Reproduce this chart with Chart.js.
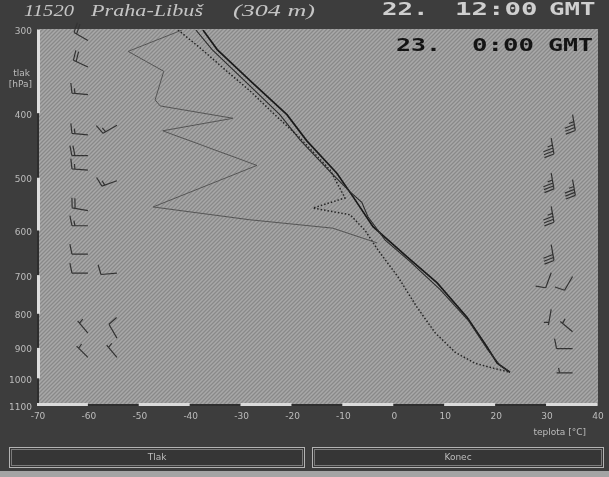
<!DOCTYPE html>
<html>
<head>
<meta charset="utf-8">
<script src="https://cdn.jsdelivr.net/npm/chart.js@4.4.1/dist/chart.umd.min.js"></script>
<style>
  html, body { margin: 0; padding: 0; background: #3d3d3d; }
  #wrap { width: 609px; height: 477px; }
</style>
</head>
<body>
<div id="wrap"><canvas id="sounding" width="609" height="477"></canvas></div>
<script>
// osy
const pressureTicks = [300, 400, 500, 600, 700, 800, 900, 1000, 1100];
const tempTicks = [-70, -60, -50, -40, -30, -20, -10, 0, 10, 20, 30, 40];

// teplota 22. 12:00 (plna cara)
const t12P = [300, 321, 357, 402, 440, 492, 534, 592, 657, 719, 810, 897, 949, 979];
const t12T = [-37.4, -34.6, -28.2, -20.9, -17.0, -11.1, -7.9, -4.0, 2.7, 8.6, 14.5, 18.4, 20.4, 22.9];

// teplota 23. 0:00 (plna cara, tenci)
const t00P = [300, 321, 357, 402, 439, 490, 525, 544, 572, 620, 668, 736, 818, 907, 955, 979];
const t00T = [-38.8, -35.6, -29.3, -22.3, -18.3, -12.4, -8.5, -6.2, -5.0, -1.6, 3.3, 9.2, 14.7, 18.6, 20.9, 22.9];

// rosny bod 23. 0:00 (teckovane)
const td00P = [300, 319, 346, 370, 402, 436, 487, 536, 555, 568, 599, 642, 704, 781, 854, 913, 949, 965, 979];
const td00T = [-42.3, -38.0, -32.7, -28.2, -23.3, -18.3, -12.4, -9.5, -15.8, -8.5, -5.6, -3.0, 0.9, 4.6, 8.2, 12.1, 16.0, 19.6, 22.9];

// rosny bod 22. 12:00 (tenka lomena cara)
const td12P = [300, 323, 346, 382, 390, 407, 425, 479, 553, 578, 595, 626];
const td12T = [-41.5, -52.1, -45.1, -46.8, -45.8, -31.5, -45.3, -26.8, -47.2, -28.2, -11.9, -3.2];

// vitr vlevo (smer, rychlost v kt, sloupec)
const windLeftP = [311, 341, 375, 417, 431, 463, 487, 505, 560, 590, 651, 695, 695, 855, 870, 930, 930];
const windLeftDir = [300, 295, 275, 240, 275, 270, 275, 250, 280, 270, 270, 270, 265, 320, 330, 315, 320];
const windLeftSpd = [20, 20, 15, 15, 15, 20, 15, 15, 20, 15, 10, 10, 10, 5, 10, 5, 5];
const windLeftLane = [0, 0, 0, 1, 0, 0, 0, 1, 0, 0, 0, 0, 1, 0, 1, 0, 1];

// vitr vpravo
const windRightP = [402, 436, 492, 503, 552, 630, 694, 703, 788, 851, 902, 981];
const windRightDir = [170, 170, 170, 170, 170, 170, 200, 210, 190, 310, 270, 270];
const windRightSpd = [35, 35, 35, 35, 35, 30, 10, 10, 5, 5, 10, 5];
const windRightLane = [1, 0, 0, 1, 0, 0, 0, 1, 0, 1, 1, 1];

function series(ts, ps) {
  return ts.map((t, i) => ({ x: t, y: ps[i] }));
}

function makeHatch(ctx) {
  const c = document.createElement('canvas');
  c.width = 4; c.height = 4;
  const g = c.getContext('2d');
  g.fillStyle = '#9a9a9a';
  g.fillRect(0, 0, 4, 4);
  g.fillStyle = '#898989';
  for (let i = 0; i < 4; i++) g.fillRect(i, 3 - i, 1, 1);
  g.fillStyle = '#a8a8a8';
  for (let i = 0; i < 4; i++) g.fillRect(i, (5 - i) % 4, 1, 1);
  return ctx.createPattern(c, 'repeat');
}

// text roztazeny na danou sirku
function fitText(ctx, txt, x, y, w) {
  const m = ctx.measureText(txt).width;
  ctx.save();
  ctx.translate(x, y);
  ctx.scale(w / m, 1);
  ctx.textAlign = 'left';
  ctx.fillText(txt, 0, 0);
  ctx.restore();
}

// neproporcionalni text s pevnou sirkou znaku
function monoText(ctx, txt, x, y, cell) {
  const s = cell / ctx.measureText('0').width;
  ctx.save();
  ctx.translate(x, y);
  ctx.scale(s, 1);
  ctx.textAlign = 'left';
  ctx.fillText(txt, 0, 0);
  ctx.restore();
}

function drawBarb(ctx, x, y, dir, spd) {
  const rad = dir * Math.PI / 180;
  const ux = Math.sin(rad), uy = -Math.cos(rad);
  const px = -uy, py = ux;
  const len = 16;
  const tx = x + ux * len, ty = y + uy * len;
  ctx.beginPath();
  ctx.moveTo(x, y);
  ctx.lineTo(tx, ty);
  let rest = Math.round(spd / 5) * 5;
  let pos = 0;
  while (rest >= 10) {
    const bx = tx - ux * pos, by = ty - uy * pos;
    ctx.moveTo(bx, by);
    ctx.lineTo(bx + px * 10 + ux * 2, by + py * 10 + uy * 2);
    rest -= 10;
    pos += 3;
  }
  if (rest >= 5) {
    if (pos === 0) pos = 3;
    const bx = tx - ux * pos, by = ty - uy * pos;
    ctx.moveTo(bx, by);
    ctx.lineTo(bx + px * 5 + ux, by + py * 5 + uy);
  }
  ctx.stroke();
}

const soundingFrame = {
  id: 'soundingFrame',
  beforeDraw(chart) {
    const { ctx, chartArea: a, width, height } = chart;
    ctx.save();
    ctx.fillStyle = '#3d3d3d';
    ctx.fillRect(0, 0, width, height);
    ctx.fillStyle = '#a4a4a4';
    ctx.fillRect(0, 471, width, height - 471);
    ctx.fillStyle = makeHatch(ctx);
    ctx.fillRect(a.left, a.top - 1, a.right - a.left + 1, a.bottom - a.top + 1);
    ctx.restore();
  },
  afterDatasetsDraw(chart) {
    const { ctx, chartArea: a, scales } = chart;
    const xs = scales.x, ys = scales.y;
    ctx.save();

    // vetrne symboly
    ctx.strokeStyle = '#333333';
    ctx.lineWidth = 1.2;
    const leftLanes = [-60, -54.3];
    const rightLanes = [31, 35.2];
    windLeftP.forEach((p, i) => {
      drawBarb(ctx, xs.getPixelForValue(leftLanes[windLeftLane[i]]), ys.getPixelForValue(p), windLeftDir[i], windLeftSpd[i]);
    });
    windRightP.forEach((p, i) => {
      drawBarb(ctx, xs.getPixelForValue(rightLanes[windRightLane[i]]), ys.getPixelForValue(p), windRightDir[i], windRightSpd[i]);
    });

    // leva osa - stridave useky
    for (let i = 0; i < pressureTicks.length - 1; i++) {
      const y1 = ys.getPixelForValue(pressureTicks[i]);
      const y2 = ys.getPixelForValue(pressureTicks[i + 1]);
      if (i % 2 === 0) {
        ctx.fillStyle = '#dedede';
        ctx.fillRect(a.left, y1, 3, y2 - y1);
      } else {
        ctx.fillStyle = '#2e2e2e';
        ctx.fillRect(a.left, y1, 2, y2 - y1);
      }
    }
    // spodni osa
    for (let i = 0; i < tempTicks.length - 1; i++) {
      const x1 = xs.getPixelForValue(tempTicks[i]);
      const x2 = xs.getPixelForValue(tempTicks[i + 1]);
      if (i % 2 === 0) {
        ctx.fillStyle = '#dadada';
        ctx.fillRect(x1, a.bottom - 3, x2 - x1, 3);
      } else {
        ctx.fillStyle = '#2e2e2e';
        ctx.fillRect(x1, a.bottom - 2, x2 - x1, 2);
      }
    }

    // popisky os
    ctx.fillStyle = '#bcbcbc';
    ctx.font = '9px "DejaVu Sans"';
    ctx.textBaseline = 'middle';
    ctx.textAlign = 'right';
    pressureTicks.forEach(p => {
      ctx.fillText(String(p), 32, ys.getPixelForValue(p) + 2);
    });
    ctx.fillText('tlak', 30, a.top + 44);
    ctx.fillText('[hPa]', 32, a.top + 55);
    ctx.textAlign = 'center';
    tempTicks.forEach(t => {
      ctx.fillText(String(t), xs.getPixelForValue(t) + 1, a.bottom + 11);
    });
    ctx.textAlign = 'right';
    ctx.fillText('teplota [°C]', 586, a.bottom + 27);

    // nadpis
    ctx.fillStyle = '#c4c4c4';
    ctx.font = 'italic 17px "Liberation Serif"';
    ctx.textBaseline = 'middle';
    fitText(ctx, '11520', 24, 12, 50);
    fitText(ctx, 'Praha-Libuš', 91, 12, 112);
    fitText(ctx, '(304 m)', 233, 12, 82);
    ctx.font = 'bold 17px "DejaVu Sans Mono"';
    ctx.fillStyle = '#cfcfcf';
    monoText(ctx, '22.', 382, 11, 15.5);
    monoText(ctx, '12:00', 455, 11, 16.5);
    monoText(ctx, 'GMT', 549, 11, 15.5);
    ctx.fillStyle = '#141414';
    monoText(ctx, '23.', 396, 47, 15);
    monoText(ctx, '0:00', 472, 47, 15.5);
    monoText(ctx, 'GMT', 548, 47, 15);

    // tlacitka
    const buttons = [['Tlak', 9, 305], ['Konec', 312, 604]];
    ctx.font = '9px "DejaVu Sans"';
    ctx.textAlign = 'center';
    buttons.forEach(([label, x1, x2]) => {
      ctx.fillStyle = '#363636';
      ctx.fillRect(x1, 447, x2 - x1, 21);
      ctx.strokeStyle = '#b4b4b4';
      ctx.lineWidth = 1;
      ctx.strokeRect(x1 + 0.5, 447.5, x2 - x1 - 1, 20);
      ctx.strokeStyle = '#7c7c7c';
      ctx.strokeRect(x1 + 2.5, 449.5, x2 - x1 - 5, 16);
      ctx.fillStyle = '#bdbdbd';
      ctx.fillText(label, (x1 + x2) / 2, 458);
    });

    ctx.restore();
  }
};

new Chart(document.getElementById('sounding'), {
  type: 'scatter',
  data: {
    datasets: [
      {
        label: 'Td 12:00',
        data: series(td12T, td12P),
        showLine: true,
        borderColor: '#555555',
        borderWidth: 1,
        pointRadius: 0
      },
      {
        label: 'Td 0:00',
        data: series(td00T, td00P),
        showLine: true,
        borderColor: '#262626',
        borderWidth: 1.5,
        borderDash: [1.5, 2],
        pointRadius: 0
      },
      {
        label: 'T 0:00',
        data: series(t00T, t00P),
        showLine: true,
        borderColor: '#2c2c2c',
        borderWidth: 1.1,
        pointRadius: 0
      },
      {
        label: 'T 12:00',
        data: series(t12T, t12P),
        showLine: true,
        borderColor: '#1a1a1a',
        borderWidth: 1.7,
        pointRadius: 0
      }
    ]
  },
  options: {
    responsive: false,
    animation: false,
    devicePixelRatio: 1,
    events: [],
    layout: {
      padding: { left: 37, right: 12, top: 30, bottom: 71 }
    },
    scales: {
      x: { type: 'linear', min: -70, max: 40, display: false },
      y: { type: 'logarithmic', min: 300, max: 1100, reverse: true, display: false }
    },
    plugins: {
      legend: { display: false },
      tooltip: { enabled: false }
    }
  },
  plugins: [soundingFrame]
});
</script>
</body>
</html>
